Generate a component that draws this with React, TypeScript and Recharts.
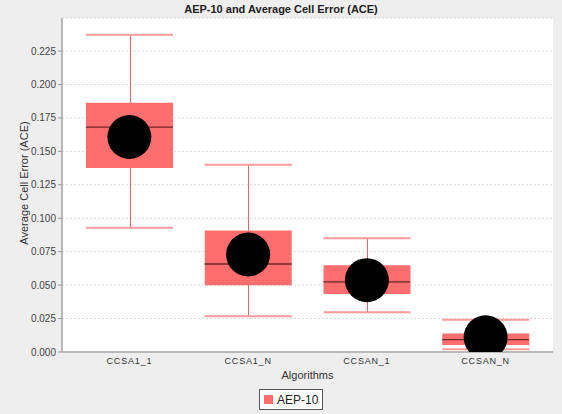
import React from 'react';
import {
  ComposedChart,
  Bar,
  Scatter,
  XAxis,
  YAxis,
  CartesianGrid
} from 'recharts';

// box statistics, one entry per algorithm
const ALGORITHMS = ['CCSA1_1', 'CCSA1_N', 'CCSAN_1', 'CCSAN_N'];
const WHISKER_LOW = [0.0928, 0.0267, 0.0297, 0.002];
const Q1 = [0.1375, 0.0499, 0.0434, 0.0052];
const MEDIAN = [0.1681, 0.0658, 0.0524, 0.0093];
const Q3 = [0.1863, 0.0908, 0.0649, 0.0138];
const WHISKER_HIGH = [0.2372, 0.1399, 0.0851, 0.0242];
const MEAN = [0.1607, 0.0729, 0.0537, 0.011];
const Y_TICKS = [0, 0.025, 0.05, 0.075, 0.1, 0.125, 0.15, 0.175, 0.2, 0.225];

const data = ALGORITHMS.map((name, i) => ({
  name,
  whisker: [WHISKER_LOW[i], WHISKER_HIGH[i]],
  box: [Q1[i], Q3[i]],
  median: MEDIAN[i],
  mean: MEAN[i]
}));

const BOX_WIDTH = 87;
const BOX_FILL = '#ff6e6e';
const FONT = '"Liberation Sans", Arial, sans-serif';

const WhiskerShape = (props: any) => {
  const { x, y, width, height } = props;
  const cx = Math.round(x + width / 2) + 0.5;
  return (
    <g>
      <line x1={cx} x2={cx} y1={y} y2={y + height} stroke="#f26262" strokeWidth={1} />
      <line x1={x} x2={x + width} y1={y} y2={y} stroke="#ff9a9a" strokeWidth={2} />
      <line x1={x} x2={x + width} y1={y + height} y2={y + height} stroke="#ff9a9a" strokeWidth={2} />
    </g>
  );
};

const MedianShape = (props: any) => {
  const { cx, cy } = props;
  return (
    <line
      x1={cx - BOX_WIDTH / 2}
      x2={cx + BOX_WIDTH / 2}
      y1={cy}
      y2={cy}
      stroke="#6e2626"
      strokeWidth={1.3}
    />
  );
};

const MeanShape = (props: any) => {
  const { cx, cy } = props;
  return <circle cx={cx} cy={cy} r={22} fill="#000" />;
};

const App: React.FC = () => {
  return (
    <div
      style={{
        position: 'absolute',
        left: 0,
        top: 0,
        width: 562,
        height: 414,
        background: '#eeeeee',
        fontFamily: FONT
      }}
    >
      <div
        style={{
          position: 'absolute',
          top: 3,
          width: 562,
          textAlign: 'center',
          fontSize: 11,
          fontWeight: 'bold',
          color: '#222'
        }}
      >
        AEP-10 and Average Cell Error (ACE)
      </div>

      <div
        style={{
          position: 'absolute',
          left: 24 - 100,
          top: 185 - 8,
          width: 200,
          textAlign: 'center',
          fontSize: 11,
          color: '#333',
          transform: 'rotate(-90deg)'
        }}
      >
        Average Cell Error (ACE)
      </div>

      <ComposedChart
        width={562}
        height={414}
        data={data}
        margin={{ top: 18, right: 9, bottom: 28, left: 0 }}
        barGap={-BOX_WIDTH}
        style={{ position: 'absolute', left: 0, top: 0 }}
      >
        <CartesianGrid
          vertical={false}
          strokeDasharray="2 2"
          stroke="#dadada"
          fill="#ffffff"
        />
        <XAxis
          dataKey="name"
          type="category"
          padding={{ left: 8, right: 8 }}
          height={34}
          tickLine={false}
          axisLine={{ stroke: '#b8b8b8', strokeWidth: 2 }}
          tick={{ fontSize: 9, fill: '#333', fontFamily: FONT, letterSpacing: 0.8, dy: -2 }}
          label={{
            value: 'Algorithms',
            position: 'insideBottom',
            offset: 7,
            fontSize: 11,
            fill: '#333',
            fontFamily: FONT
          }}
        />
        <XAxis
          xAxisId="top"
          dataKey="name"
          orientation="top"
          height={0}
          tick={false}
          tickLine={false}
          axisLine={{ stroke: '#c8c8c8' }}
        />
        <YAxis
          type="number"
          domain={[0, 0.2497]}
          ticks={Y_TICKS}
          allowDataOverflow
          width={62}
          tickFormatter={(v: number) => v.toFixed(3)}
          tickSize={4}
          tickLine={{ stroke: '#999' }}
          axisLine={{ stroke: '#b8b8b8', strokeWidth: 2 }}
          tick={{ fontSize: 10, fill: '#444', fontFamily: FONT }}
        />
        <YAxis
          yAxisId="right"
          orientation="right"
          width={0}
          tick={false}
          tickLine={false}
          axisLine={{ stroke: '#c8c8c8' }}
        />
        <Bar
          dataKey="whisker"
          barSize={BOX_WIDTH}
          shape={<WhiskerShape />}
          isAnimationActive={false}
        />
        <Bar
          dataKey="box"
          barSize={BOX_WIDTH}
          fill={BOX_FILL}
          isAnimationActive={false}
        />
        <Scatter dataKey="median" shape={<MedianShape />} isAnimationActive={false} />
        <Scatter dataKey="mean" shape={<MeanShape />} isAnimationActive={false} />
      </ComposedChart>

      <div
        style={{
          position: 'absolute',
          left: 259,
          top: 389,
          height: 19,
          padding: '0 4px',
          border: '1px solid #555',
          background: '#fff',
          display: 'flex',
          alignItems: 'center',
          fontSize: 12,
          color: '#222'
        }}
      >
        <span
          style={{
            display: 'inline-block',
            width: 9,
            height: 9,
            background: BOX_FILL,
            marginRight: 4
          }}
        />
        AEP-10
      </div>
    </div>
  );
};

export default App;
